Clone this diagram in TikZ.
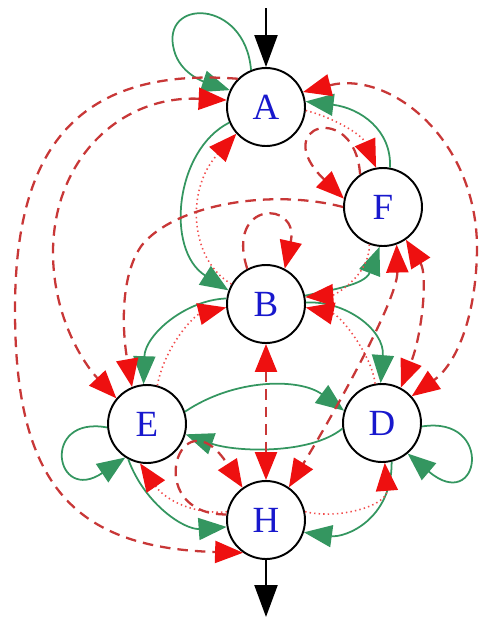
\documentclass[tikz,border=0pt]{standalone}
\usepackage{fontspec}
\setmainfont{Liberation Serif}
\usepackage{tikz}
\usetikzlibrary{arrows.meta}
\definecolor{FAGreen}{RGB}{52,150,96}
\definecolor{FARed}{RGB}{238,16,16}
\definecolor{FADash}{RGB}{200,55,55}
\definecolor{FABlue}{RGB}{24,24,205}

\begin{document}
\begin{tikzpicture}[x=0.02cm, y=-0.02cm,
      state/.style={circle, draw=black, line width=1.1pt, fill=white,
                    minimum size=1.56cm, inner sep=0pt,
                    font=\fontsize{21}{24}\selectfont, text=FABlue},
      io/.style={draw=black, line width=1.3pt,
                 -{Triangle[length=0.64cm, width=0.46cm]}},
      trans/.style={draw=FAGreen, line width=1pt,
                    -{Triangle[length=0.56cm, width=0.44cm, color=FAGreen]}},
      jump/.style={draw=FADash, line width=1.3pt, dash pattern=on 6pt off 4pt,
                   >={Triangle[length=0.56cm, width=0.44cm, color=FARed]}, ->},
      back/.style={draw=FARed!75, line width=0.9pt, dash pattern=on 0.8pt off 1.8pt,
                   -{Triangle[length=0.56cm, width=0.44cm, color=FARed]}}
    ]
    \useasboundingbox (0,0) rectangle (479,620);

    % States
    \foreach \n/\x/\y in {A/266/107, F/383/207, B/266/304,
                          E/147/424, D/382/423, H/266/520}
      \node[state] (\n) at (\x,\y) {\n};

    % Entry and exit
    \coordinate (go) at (266,8);
    \coordinate (stop) at (266,617);
    \draw[io] (go) -- (A);
    \draw[io] (H) -- (stop);

    % Green transitions
    \draw[trans] (A.112) .. controls (245,-2) and (160,-2) .. (174,50)
                 .. controls (180,74) and (205,82) .. (A.155);
    \draw[trans] (A.203) .. controls (175,150) and (165,250) .. (B.160);
    \draw[trans] (F.80) .. controls (392,130) and (360,108) .. (A.8);
    \draw[trans] (B.12) .. controls (330,290) and (365,285) .. (F.265);
    \draw[trans] (B.172) .. controls (185,300) and (145,335) .. (E.95);
    \draw[trans] (B.2) .. controls (345,300) and (385,330) .. (D.92);
    \draw[trans] (E.18) .. controls (235,378) and (300,378) .. (D.162);
    \draw[trans] (D.188) .. controls (310,455) and (235,452) .. (E.345);
    \draw[trans] (E.185) .. controls (40,415) and (55,505) .. (E.237);
    \draw[trans] (D.-5) .. controls (495,415) and (480,515) .. (D.-50);
    \draw[trans] (E.242) .. controls (145,505) and (185,530) .. (H.190);
    \draw[trans] (D.284) .. controls (392,520) and (345,538) .. (H.342);

    % Dotted returns
    \draw[back] (A.-5) .. controls (335,118) and (362,135) .. (F.100);
    \draw[back] (B.150) .. controls (190,260) and (185,190) .. (A.222);
    \draw[back] (E.75) .. controls (165,345) and (195,315) .. (B.185);
    \draw[back] (F.250) .. controls (370,275) and (335,295) .. (B.10);
    \draw[back] (D.100) .. controls (372,355) and (340,315) .. (B.355);
    \draw[back] (H.168) .. controls (195,515) and (165,500) .. (E.260);
    \draw[back] (H.12) .. controls (340,520) and (388,505) .. (D.274);

    % Dashed jumps
    \draw[jump] (A.135) .. controls (60,65) and (15,170) .. (15,310)
                .. controls (15,480) and (70,548) .. (H.235);
    \draw[jump, <->] (A.170) .. controls (120,95) and (52,160) .. (53,255)
                     .. controls (54,320) and (85,365) .. (E.140);
    \draw[jump, <->] (A.22) .. controls (390,70) and (478,140) .. (477,250)
                     .. controls (476,320) and (455,365) .. (D.42);
    \draw[jump, <->] (F.305) .. controls (428,275) and (422,335) .. (D.62);
    \draw[jump, <->] (F.290) .. controls (398,300) and (330,420) .. (H.55);
    \draw[jump, <->] (B) -- (H);
    \draw[jump] (F.180) .. controls (270,188) and (175,205) .. (142,245)
                .. controls (120,275) and (122,330) .. (E.112);
    \draw[jump] (F.125) .. controls (355,100) and (268,125) .. (F.168);
    \draw[jump] (B.118) .. controls (225,200) and (300,200) .. (B.62);
    \draw[jump] (H.172) .. controls (140,515) and (180,390) .. (H.126);
  \end{tikzpicture}
\end{document}
